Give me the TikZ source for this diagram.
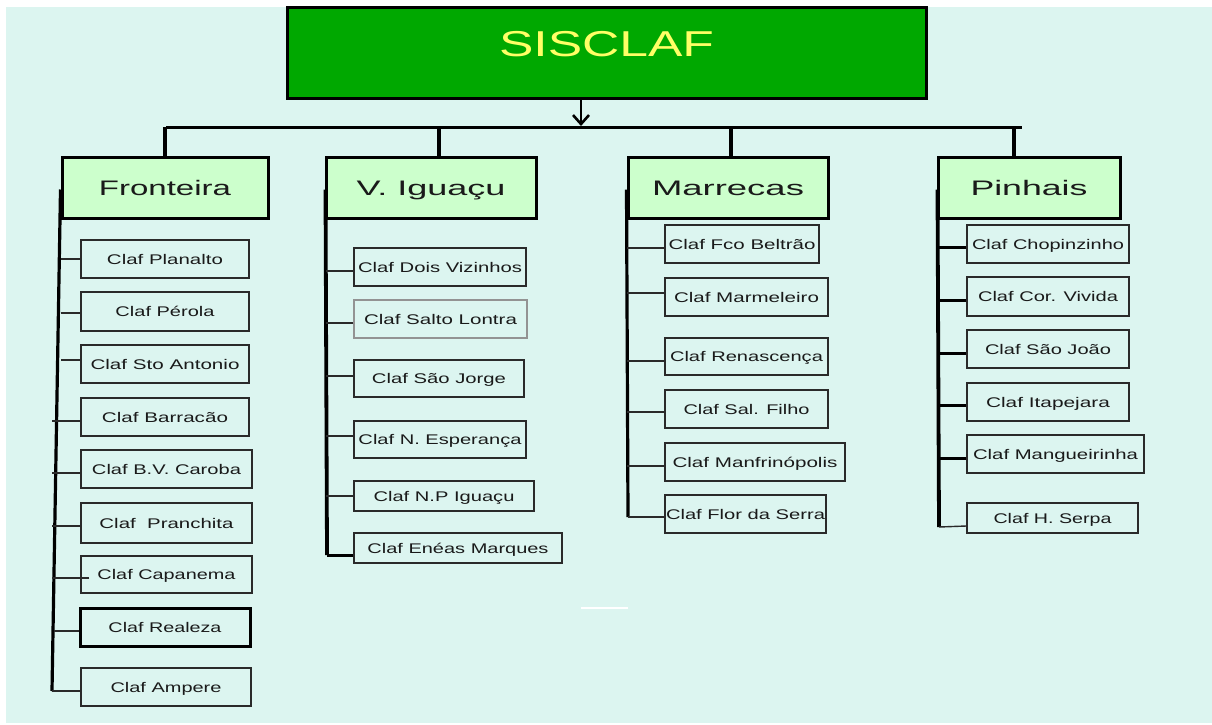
\documentclass[tikz,border=0pt]{standalone}
\usepackage{fontspec}
\usepackage{graphicx}
\setmainfont{Liberation Sans}
\usetikzlibrary{arrows.meta}
\definecolor{bgc}{HTML}{DCF5F0}
\definecolor{topgreen}{RGB}{0,168,0}
\definecolor{topyellow}{RGB}{255,255,102}
\definecolor{gfill}{RGB}{204,255,204}
\definecolor{txt}{HTML}{1A1A1A}
\definecolor{boxline}{HTML}{2A2A2A}
\newcommand{\fw}[2]{\resizebox{#1pt}{\height}{#2}}
\tikzset{
  cbox/.style={draw=boxline, line width=1.4pt, fill=bgc, inner sep=0pt, text=txt,
    font=\fontsize{14}{16}\selectfont, text height=10.2pt, text depth=0pt},
  gbox/.style={draw=black, line width=3pt, fill=gfill, inner sep=0pt, text=txt,
    font=\fontsize{21}{24}\selectfont, text height=15pt, text depth=0pt,
    minimum height=61pt},
  topbox/.style={draw=black, line width=3pt, fill=topgreen, inner sep=0pt, text=topyellow,
    font=\fontsize{36}{40}\selectfont, text height=26pt, text depth=19pt},
  stub/.style={draw=boxline, line width=1.4pt},
  thickstub/.style={draw=black, line width=3pt},
  trunk/.style={draw=black, line width=3.2pt},
  bus/.style={draw=black, line width=3pt},
  drop/.style={draw=black, line width=3.5pt},
}
\begin{document}
\begin{tikzpicture}[x=1pt,y=-1pt]
\useasboundingbox (0,0) rectangle (1212,724);
\fill[white] (0,0) rectangle (1212,724);
\fill[bgc] (6,7) rectangle (1212,723);

% top box
\node[topbox, minimum width=639pt, minimum height=91pt] (sisclaf) at (606.5,52.5) {\fw{215}{SISCLAF}};

% bus
\coordinate (busL) at (166,127);
\coordinate (busR) at (1022,127);
\coordinate (arrowend) at (581,126);
\draw[bus] (busL) -- (busR);
\draw[line width=2.6pt, -{Straight Barb[length=9pt,width=16pt,line width=2.6pt]}]
  ([xshift=-25.5pt]sisclaf.south) -- (arrowend);

% group boxes
\node[gbox, minimum width=206pt] (fronteira) at (165,187.5) {\fw{132}{Fronteira}};
\node[gbox, minimum width=210pt] (vig) at (431,187.5) {\fw{149}{V. Iguaçu}};
\node[gbox, minimum width=200pt] (marrecas) at (728,187.5) {\fw{152}{Marrecas}};
\node[gbox, minimum width=182pt] (pinhais) at (1029,187.5) {\fw{117}{Pinhais}};

\draw[drop] (fronteira.north) -- (fronteira.north |- busL);
\draw[drop] ([xshift=8pt]vig.north) -- ([xshift=8pt]vig.north |- busL);
\draw[drop] ([xshift=3pt]marrecas.north) -- ([xshift=3pt]marrecas.north |- busL);
\draw[drop] ([xshift=-15pt]pinhais.north) -- ([xshift=-15pt]pinhais.north |- busL);

% Fronteira column
\node[cbox, minimum width=168pt, minimum height=38pt] (planalto) at (165,259) {\fw{116}{Claf Planalto}};
\node[cbox, minimum width=168pt, minimum height=39pt] (perola) at (165,311.5) {\fw{99}{Claf Pérola}\hspace{17pt}};
\node[cbox, minimum width=168pt, minimum height=38pt] (stoantonio) at (165,364) {\fw{149}{Claf Sto Antonio}};
\node[cbox, minimum width=168pt, minimum height=38pt] (barracao) at (165,417) {\fw{126}{Claf Barracão}};
\node[cbox, minimum width=171pt, minimum height=38pt] (caroba) at (166.5,469) {\fw{149}{Claf B.V. Caroba}};
\node[cbox, minimum width=171pt, minimum height=40pt] (pranchita) at (166.5,523) {\fw{134}{Claf\ \ Pranchita}};
\node[cbox, minimum width=171pt, minimum height=37pt] (capanema) at (166.5,574.5) {\fw{138}{Claf Capanema}};
\node[cbox, draw=black, line width=3pt, minimum width=170pt, minimum height=38pt] (realeza) at (165,627) {\fw{113}{Claf Realeza}};
\node[cbox, minimum width=170pt, minimum height=38pt] (ampere) at (166,687) {\fw{111}{Claf Ampere}};

\coordinate (fbot) at (52,691);
\draw[trunk] ([yshift=30pt]fronteira.south west) -- (fbot);
\draw[stub] (planalto.west) -- ++(-19,0);
\draw[stub] ([yshift=-1.5pt]perola.west) -- ++(-19,0);
\draw[stub] ([yshift=4pt]stoantonio.west) -- ++(-19,0);
\draw[stub] ([yshift=-4pt]barracao.west) -- ++(-28,0);
\draw[stub] ([yshift=-4pt]caroba.west) -- ++(-28,0);
\draw[stub] ([yshift=-3pt]pranchita.west) -- ++(-28,0);
\draw[stub] ([xshift=9pt,yshift=-3.5pt]capanema.west) -- ++(-37,0);
\draw[stub] ([yshift=-4pt]realeza.west) -- ++(-25,0);
\draw[stub] ([yshift=-4pt]ampere.west) -- (fbot);

% V. Iguacu column
\node[cbox, minimum width=172pt, minimum height=38pt] (dois) at (440,267) {\fw{164}{Claf Dois Vizinhos}};
\node[cbox, draw=gray!85, minimum width=173pt, minimum height=38pt] (salto) at (440.5,319) {\fw{153}{Claf Salto Lontra}};
\node[cbox, minimum width=170pt, minimum height=37pt] (jorge) at (439,378.5) {\fw{134}{Claf São Jorge}};
\node[cbox, minimum width=172pt, minimum height=37pt] (esper) at (440,439.5) {\fw{163}{Claf N. Esperança}};
\node[cbox, minimum width=180pt, minimum height=30pt] (npig) at (444,496) {\fw{141}{Claf N.P Iguaçu}};
\node[cbox, minimum width=208pt, minimum height=30pt] (eneas) at (458,548) {\fw{181}{Claf Enéas Marques}};

\coordinate (vbot) at (327,555);
\draw[trunk, line width=3.8pt] ([xshift=1pt,yshift=30pt]vig.south west) -- (vbot);
\draw[stub] ([yshift=-4pt]dois.west) -- ++(-27,0);
\draw[stub] ([yshift=-4pt]salto.west) -- ++(-27,0);
\draw[stub] ([yshift=2.5pt]jorge.west) -- ++(-27,0);
\draw[stub] ([yshift=3.5pt]esper.west) -- ++(-27,0);
\draw[stub] (npig.west) -- ++(-27,0);
\draw[thickstub] ([yshift=-7pt]eneas.west) -- (vbot);

% Marrecas column
\node[cbox, minimum width=154pt, minimum height=38pt] (fco) at (742,244) {\fw{147}{Claf Fco Beltrão}};
\node[cbox, minimum width=163pt, minimum height=38pt] (marm) at (746.5,297) {\fw{145}{Claf Marmeleiro}};
\node[cbox, minimum width=163pt, minimum height=37pt] (renas) at (746.5,356.5) {\fw{153}{Claf Renascença}};
\node[cbox, minimum width=163pt, minimum height=38pt] (salf) at (746.5,409) {\fw{126}{Claf Sal. Filho}};
\node[cbox, minimum width=180pt, minimum height=38pt] (manf) at (755,462) {\fw{165}{Claf Manfrinópolis}};
\node[cbox, minimum width=161pt, minimum height=38pt] (flor) at (745.5,514) {\fw{159}{Claf Flor da Serra}};

\coordinate (mbot) at (628,517);
\draw[trunk] ([yshift=30pt]marrecas.south west) -- (mbot);
\draw[stub] ([yshift=-4pt]fco.west) -- ++(-37,0);
\draw[stub] ([yshift=4pt]marm.west) -- ++(-37,0);
\draw[stub] ([yshift=-4.5pt]renas.west) -- ++(-37,0);
\draw[stub] ([yshift=-3pt]salf.west) -- ++(-37,0);
\draw[stub] ([yshift=-4pt]manf.west) -- ++(-37,0);
\draw[stub] ([yshift=-3pt]flor.west) -- (mbot);

% Pinhais column
\node[cbox, minimum width=162pt, minimum height=38pt] (chop) at (1048,244) {\fw{152}{Claf Chopinzinho}};
\node[cbox, minimum width=162pt, minimum height=39pt] (cor) at (1048,296.5) {\fw{140}{Claf Cor. Vivida}};
\node[cbox, minimum width=162pt, minimum height=38pt] (sjoao) at (1048,349) {\fw{126}{Claf São João}};
\node[cbox, minimum width=162pt, minimum height=38pt] (itap) at (1048,402) {\fw{124}{Claf Itapejara}\hspace{6pt}};
\node[cbox, minimum width=177pt, minimum height=38pt] (mang) at (1055.5,454) {\fw{165}{Claf Mangueirinha}};
\node[cbox, minimum width=171pt, minimum height=30pt] (hserpa) at (1052.5,518) {\fw{118}{Claf H. Serpa}};

\coordinate (pbot) at (939,527);
\draw[trunk, line width=3.8pt] ([xshift=1pt,yshift=30pt]pinhais.south west) -- (pbot);
\draw[thickstub] ([yshift=-3pt]chop.west) -- ++(-28,0);
\draw[thickstub] ([yshift=-3.5pt]cor.west) -- ++(-28,0);
\draw[thickstub] ([yshift=-4pt]sjoao.west) -- ++(-28,0);
\draw[thickstub] ([yshift=-3pt]itap.west) -- ++(-28,0);
\draw[thickstub] ([yshift=-4pt]mang.west) -- ++(-28,0);
\draw[stub] ([yshift=-8pt]hserpa.west) -- (pbot);

% faint white mark
\draw[white, line width=1.2pt] (581,608) -- (628,608);
\end{tikzpicture}
\end{document}
